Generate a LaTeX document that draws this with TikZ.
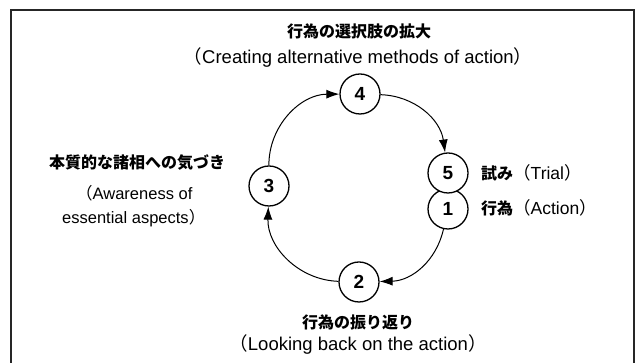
\documentclass[tikz,border=0pt]{standalone}
\usepackage{fontspec}
\setmainfont{Liberation Sans}
\newfontfamily\jp{Noto Sans CJK JP}
\usetikzlibrary{arrows.meta}
\newcommand{\lp}{{\jp （}}
\newcommand{\rp}{{\jp ）}}
\begin{document}
\begin{tikzpicture}[x=1pt,y=1pt,
  stage/.style={circle,draw,line width=1.3pt,fill=white,minimum size=40pt,inner sep=0pt,font=\bfseries\fontsize{19}{21}\selectfont},
  jptitle/.style={inner sep=0pt,font=\jp\bfseries\fontsize{16}{18}\selectfont},
  entext/.style={inner sep=0pt,font=\fontsize{18.5}{21}\selectfont},
  sidetext/.style={inner sep=0pt,font=\fontsize{16.5}{20}\selectfont},
  flow/.style={line width=1pt,-{Latex[length=13pt,width=9pt]}}]
\useasboundingbox (0,0) rectangle (637,363);
\draw[line width=1.2pt,draw=black!85] (11,-2) -- (11,353) -- (634,353) -- (634,-2);
% stages
\node[stage] (s4) at (360,269) {4};
\node[stage] (s3) at (269,177) {3};
\node[stage] (s2) at (359,81) {2};
\node[stage] (s1) at (448,154) {1};
\node[stage] (s5) at (448,190) {5};
% connectors
\draw[flow] (s4) to[bend left=40] (s5);
\draw[flow] (s1) to[bend left=38] (s2);
\draw[flow] (s2) to[bend left=45] (s3);
\draw[flow] (s3) to[bend left=45] (s4);
% labels
\node[jptitle] (l4a) at (359,331.5) {行為の選択肢の拡大};
\node[entext] (l4b) at (358,305) {\lp Creating alternative methods of action\rp};
\node[jptitle,anchor=west] (l3a) at (49,200) {本質的な諸相への気づき};
\node[sidetext,anchor=west] (l3b) at (76,170) {\lp Awareness of};
\node[sidetext,anchor=west] (l3c) at (62,145) {essential aspects\rp};
\node[anchor=west,inner sep=0pt] (l5) at (481,190) {{\jp\bfseries\fontsize{16}{18}\selectfont 試み}{\fontsize{17.5}{20}\selectfont\lp Trial\rp}};
\node[anchor=west,inner sep=0pt] (l1) at (481,155) {{\jp\bfseries\fontsize{16}{18}\selectfont 行為}{\fontsize{17.5}{20}\selectfont\lp Action\rp}};
\node[jptitle] (l2a) at (358,41) {行為の振り返り};
\node[entext] (l2b) at (358,18) {\lp Looking back on the action\rp};
\end{tikzpicture}
\end{document}
